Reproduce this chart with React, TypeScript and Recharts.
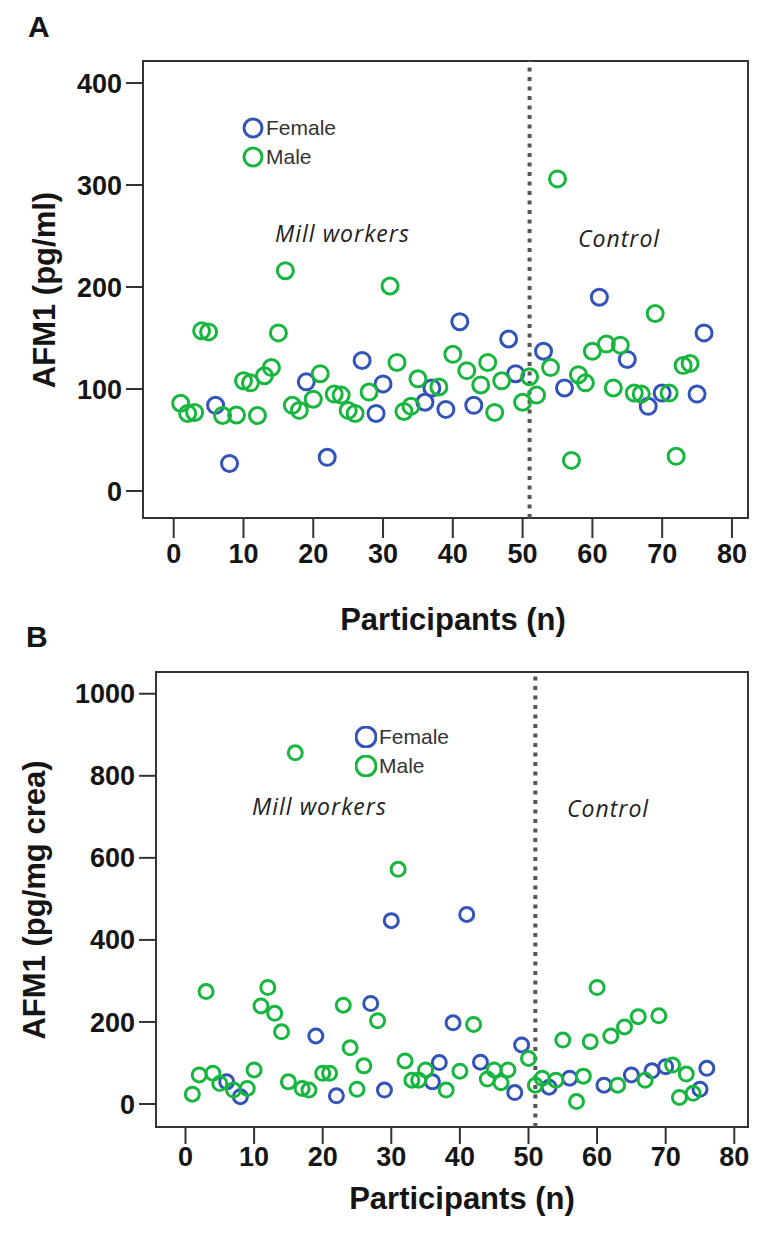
import {
  ScatterChart,
  Scatter,
  XAxis,
  YAxis,
  ReferenceLine,
  ReferenceArea,
  Legend,
} from "recharts";

// participant number 1..76
const participants = [
  1, 2, 3, 4, 5, 6, 7, 8, 9, 10, 11, 12, 13, 14, 15, 16, 17, 18, 19, 20,
  21, 22, 23, 24, 25, 26, 27, 28, 29, 30, 31, 32, 33, 34, 35, 36, 37, 38, 39, 40,
  41, 42, 43, 44, 45, 46, 47, 48, 49, 50, 51, 52, 53, 54, 55, 56, 57, 58, 59, 60,
  61, 62, 63, 64, 65, 66, 67, 68, 69, 70, 71, 72, 73, 74, 75, 76,
];

// F = female, M = male
const sex = [
  "M", "M", "M", "M", "M", "F", "M", "F", "M", "M", "M", "M", "M", "M", "M", "M", "M", "M", "F", "M",
  "M", "F", "M", "M", "M", "M", "F", "M", "F", "F", "M", "M", "M", "M", "M", "F", "F", "M", "F", "M",
  "F", "M", "F", "M", "M", "M", "M", "F", "F", "M", "M", "M", "F", "M", "M", "F", "M", "M", "M", "M",
  "F", "M", "M", "M", "F", "M", "M", "F", "M", "F", "M", "M", "M", "M", "F", "F",
];

// panel A: AFM1 (pg/ml)
const afm1Serum = [
  86, 76, 77, 157, 156, 84, 74, 27, 74.5, 108, 106, 74, 113, 121, 155, 216, 84, 79, 107, 90,
  115, 33, 95, 94, 79, 76, 128, 97, 76, 105, 201, 126, 78, 83, 110, 87, 101, 102, 80, 134,
  166, 118, 84, 104, 126, 77, 108, 149, 115, 87, 112, 94, 137, 121, 306, 101, 30, 114, 106, 137,
  190, 144, 101, 143, 129, 96, 95, 83, 174, 96, 96, 34, 123, 125, 95, 155,
];

// panel B: AFM1 (pg/mg crea)
const afm1Urine = [
  24, 71, 274, 75, 50, 54, 34, 18, 38, 83, 239, 284, 221, 176, 54, 856, 38, 34, 166, 75,
  75, 20, 241, 137, 36, 93, 245, 203, 34, 447, 572, 105, 58, 58, 83, 54, 101, 34, 198, 80,
  462, 194, 102, 61, 83, 52, 83, 28, 144, 111, 46, 63, 41, 58, 156, 63, 6, 68, 152, 284,
  46, 166, 46, 188, 71, 213, 58, 81, 215, 91, 95, 16, 73, 26, 36, 87,
];

const xTicks = [0, 10, 20, 30, 40, 50, 60, 70, 80];
const yTicksA = [0, 100, 200, 300, 400];
const yTicksB = [0, 200, 400, 600, 800, 1000];
const groupBoundary = 51;

const BLUE = "#3253b8";
const GREEN = "#17b63f";
const FONT = "'Liberation Sans', Arial, sans-serif";

function split(values: number[], who: string) {
  return participants
    .map((n, i) => ({ n, value: values[i], sex: sex[i] }))
    .filter((d) => d.sex === who);
}

const ring = (color: string, r: number) => (props: any) => (
  <circle cx={props.cx} cy={props.cy} r={r} fill="none" stroke={color} strokeWidth={3} />
);

function LegendBox({ payload, r }: any) {
  return (
    <div style={{ fontFamily: FONT, fontSize: 21, color: "#333", lineHeight: "29px" }}>
      {(payload || []).map((p: any) => (
        <div key={p.value} style={{ display: "flex", alignItems: "center" }}>
          <svg width={22} height={22} style={{ marginRight: 2 }}>
            <circle cx={11} cy={11} r={r} fill="none" stroke={p.color} strokeWidth={3} />
          </svg>
          {p.value}
        </div>
      ))}
    </div>
  );
}

interface PanelProps {
  top: number;
  height: number;
  margin: { top: number; right: number; bottom: number; left: number };
  values: number[];
  xDomain: [number, number];
  yDomain: [number, number];
  yTicks: number[];
  xTickSize: number;
  xTickMargin: number;
  r: number;
  legendPos: { left: number; top: number };
  legendR: number;
}

function Panel(p: PanelProps) {
  const female = split(p.values, "F");
  const male = split(p.values, "M");
  const tickStyle = { fontSize: 27, fontWeight: "bold", fill: "#151515", fontFamily: FONT };
  return (
    <div style={{ position: "absolute", left: 0, top: p.top }}>
      <ScatterChart width={759} height={p.height} margin={p.margin}>
        <XAxis
          type="number"
          dataKey="n"
          domain={p.xDomain}
          ticks={xTicks}
          interval={0}
          allowDataOverflow
          axisLine={false}
          tickLine={{ stroke: "#333", strokeWidth: 2 }}
          tickSize={p.xTickSize}
          tickMargin={p.xTickMargin}
          tick={tickStyle}
          height={60}
        />
        <YAxis
          type="number"
          dataKey="value"
          domain={p.yDomain}
          ticks={p.yTicks}
          interval={0}
          allowDataOverflow
          axisLine={false}
          tickLine={{ stroke: "#333", strokeWidth: 2 }}
          tickSize={17}
          tickMargin={4}
          tick={tickStyle}
          width={130}
        />
        <ReferenceArea
          x1={p.xDomain[0]}
          x2={p.xDomain[1]}
          y1={p.yDomain[0]}
          y2={p.yDomain[1]}
          fill="none"
          stroke="#333"
          strokeWidth={2}
          fillOpacity={0}
        />
        <ReferenceLine x={groupBoundary} stroke="#555" strokeWidth={4} strokeDasharray="4 5.5" />
        <Scatter name="Female" data={female} fill={BLUE} shape={ring(BLUE, p.r)} isAnimationActive={false} />
        <Scatter name="Male" data={male} fill={GREEN} shape={ring(GREEN, p.r)} isAnimationActive={false} />
        <Legend
          layout="vertical"
          align="center"
          verticalAlign="middle"
          content={(props: any) => <LegendBox payload={props.payload} r={p.legendR} />}
          wrapperStyle={{ left: p.legendPos.left, top: p.legendPos.top, width: "auto", bottom: "auto" }}
        />
      </ScatterChart>
    </div>
  );
}

const abs = (extra: React.CSSProperties): React.CSSProperties => ({
  position: "absolute",
  whiteSpace: "nowrap",
  ...extra,
});

export default function App() {
  const title = { fontFamily: FONT, fontWeight: "bold", fontSize: 31, color: "#151515" } as const;
  const note = {
    fontFamily: "'Open Sans', sans-serif",
    fontStyle: "italic",
    fontSize: 23,
    letterSpacing: 1,
    color: "#222",
  } as const;
  return (
    <div style={{ position: "absolute", left: 0, top: 0, width: 759, height: 1239, background: "#fff", overflow: "hidden" }}>
      <Panel
        top={0}
        height={600}
        margin={{ top: 61, right: 11, bottom: 22, left: 13 }}
        values={afm1Serum}
        xDomain={[-4.4, 82.3]}
        yDomain={[-26.5, 421.6]}
        yTicks={yTicksA}
        xTickSize={20}
        xTickMargin={6}
        r={8}
        legendPos={{ left: 242, top: 113 }}
        legendR={9}
      />
      <Panel
        top={600}
        height={639}
        margin={{ top: 72, right: 11, bottom: 52, left: 26 }}
        values={afm1Urine}
        xDomain={[-4.3, 82.0]}
        yDomain={[-56, 1053]}
        yTicks={yTicksB}
        xTickSize={17}
        xTickMargin={3}
        r={7}
        legendPos={{ left: 355, top: 122 }}
        legendR={10}
      />

      <div style={abs({ ...title, fontSize: 30, left: 28, top: 10 })}>A</div>
      <div style={abs({ ...title, fontSize: 30, left: 26, top: 620 })}>B</div>

      <div style={abs({ ...title, left: 453, top: 620, transform: "translate(-50%,-50%)" })}>Participants (n)</div>
      <div style={abs({ ...title, left: 462, top: 1199, transform: "translate(-50%,-50%)" })}>Participants (n)</div>

      <div style={abs({ ...title, left: 45, top: 290, transform: "translate(-50%,-50%) rotate(-90deg)" })}>AFM1 (pg/ml)</div>
      <div style={abs({ ...title, left: 35, top: 900, transform: "translate(-50%,-50%) rotate(-90deg)" })}>AFM1 (pg/mg crea)</div>

      <div style={abs({ ...note, left: 275, top: 233, transform: "translateY(-50%)" })}>Mill workers</div>
      <div style={abs({ ...note, left: 578, top: 238, transform: "translateY(-50%)" })}>Control</div>
      <div style={abs({ ...note, left: 252, top: 806, transform: "translateY(-50%)" })}>Mill workers</div>
      <div style={abs({ ...note, left: 567, top: 808, transform: "translateY(-50%)" })}>Control</div>
    </div>
  );
}
